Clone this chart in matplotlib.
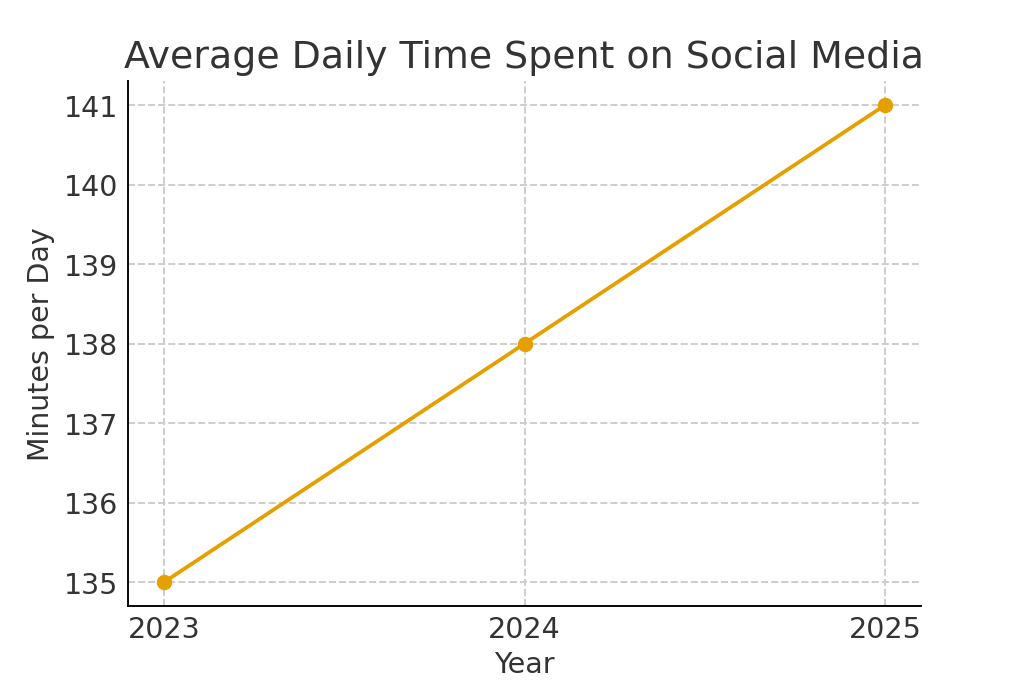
import matplotlib.pyplot as plt

years = ["2023", "2024", "2025"]
minutes = [135, 138, 141]

fig = plt.figure(figsize=(6, 4), dpi=1024 / 6)
ax = fig.add_axes([128 / 1024, 1 - 607 / 683, (921 - 128) / 1024, (607 - 82) / 683])

ax.plot(years, minutes, marker='o', color='#E69F00', linewidth=1.6, markersize=5.5)
ax.set_title('Average Daily Time Spent on Social Media', fontsize=16, color='#333333')
ax.set_xlabel('Year', fontsize=12, color='#333333', labelpad=3)
ax.set_ylabel('Minutes per Day', fontsize=12, color='#333333')
ax.tick_params(labelsize=12, colors='#333333', length=0, pad=4)
ax.grid(True, linestyle='--', color='#cccccc', linewidth=0.8)
ax.spines['top'].set_visible(False)
ax.spines['right'].set_visible(False)
ax.set_xlim(-0.1, 2.1)
ax.set_ylim(134.7, 141.3)

fig.savefig('out.png', dpi=1024 / 6)
